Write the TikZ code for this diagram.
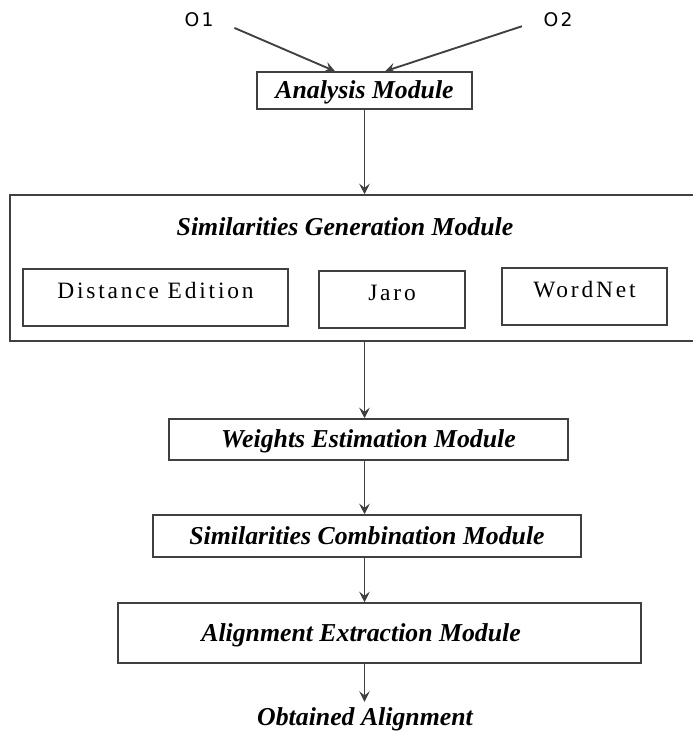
\documentclass[tikz,border=0pt]{standalone}
\usepackage{fontspec}
\usetikzlibrary{arrows.meta}
\setmainfont{Liberation Serif}
\newfontfamily\inputfont[LetterSpace=12]{DejaVu Sans}
\newfontfamily\spacedfont[LetterSpace=12]{Liberation Serif}

\begin{document}
\begin{tikzpicture}[x=0.03cm, y=-0.03cm]
        \def\px{0.03cm}
        \tikzstyle{module} = [draw=black!75, line width=1.3pt, inner sep=0pt, text height=17pt, text depth=3pt, font=\fontsize{22}{26}\selectfont\bfseries\itshape]
        \tikzstyle{modtext} = [inner sep=0pt, text height=17pt, text depth=3pt, font=\fontsize{22}{26}\selectfont\bfseries\itshape]
        \tikzstyle{measure} = [draw=black!75, line width=1.3pt, inner sep=0pt, text height=0.87cm, text depth=0.84cm, font=\fontsize{20}{24}\spacedfont]
        \tikzstyle{onto} = [inner sep=2pt, font=\fontsize{16}{19}\inputfont]
        \tikzstyle{arrow} = [-{Stealth[length=9pt, width=9pt, inset=3.5pt]}, draw=black!75, line width=1.6pt]
        \useasboundingbox (0,0) rectangle (692,731);
        % Two ontologies as inputs
        \node[onto] (o1) at (199,20) {O1};
        \node[onto] (o2) at (558,20) {O2};
        % Analysis of the inputs
        \node[module, minimum width=215*\px, minimum height=37*\px] (analysis) at (364.5,90.5) {Analysis Module};
        \draw[arrow, shorten <=20*\px] (o1.east) -- ([xshift=-29.5*\px]analysis.north);
        \draw[arrow, shorten <=20*\px] (o2.west) -- ([xshift=20.5*\px]analysis.north);
        % Big box with the three similarity measures inside
        \node[draw=black!75, line width=1.3pt, minimum width=690*\px, minimum height=146*\px] (sgm) at (355,268) {};
        \node[modtext] (sgmtitle) at (345,227) {Similarities Generation Module};
        \node[measure, minimum width=265*\px] (distance) at (155.5,297.5) {Distance Edition};
        \node[measure, minimum width=146*\px] (jaro) at (392,299.5) {Jaro};
        \node[measure, minimum width=165*\px] (wordnet) at (584.5,296.5) {WordNet};
        \draw[arrow] (analysis.south) -- (analysis.south |- sgm.north);
        % The chain of modules below
        \node[module, minimum width=399*\px, minimum height=41*\px] (weights) at (368.5,439.5) {Weights Estimation Module};
        \node[module, minimum width=428*\px, minimum height=42*\px] (combination) at (367,536) {Similarities Combination Module};
        \node[draw=black!75, line width=1.3pt, minimum width=523*\px, minimum height=60*\px] (alignment) at (379.5,633) {};
        \node[modtext] (alignmenttext) at (361,633) {Alignment Extraction Module};
        \node[modtext, anchor=base] (result) at (365,725) {Obtained Alignment};
        \draw[arrow] (sgm.south -| analysis.south) -- (weights.north -| analysis.south);
        \draw[arrow] (weights.south -| analysis.south) -- (combination.north -| analysis.south);
        \draw[arrow] (combination.south -| analysis.south) -- (alignment.north -| analysis.south);
        \draw[arrow] (alignment.south -| analysis.south) -- ([yshift=3*\px]result.north -| analysis.south);

    \end{tikzpicture}
\end{document}
